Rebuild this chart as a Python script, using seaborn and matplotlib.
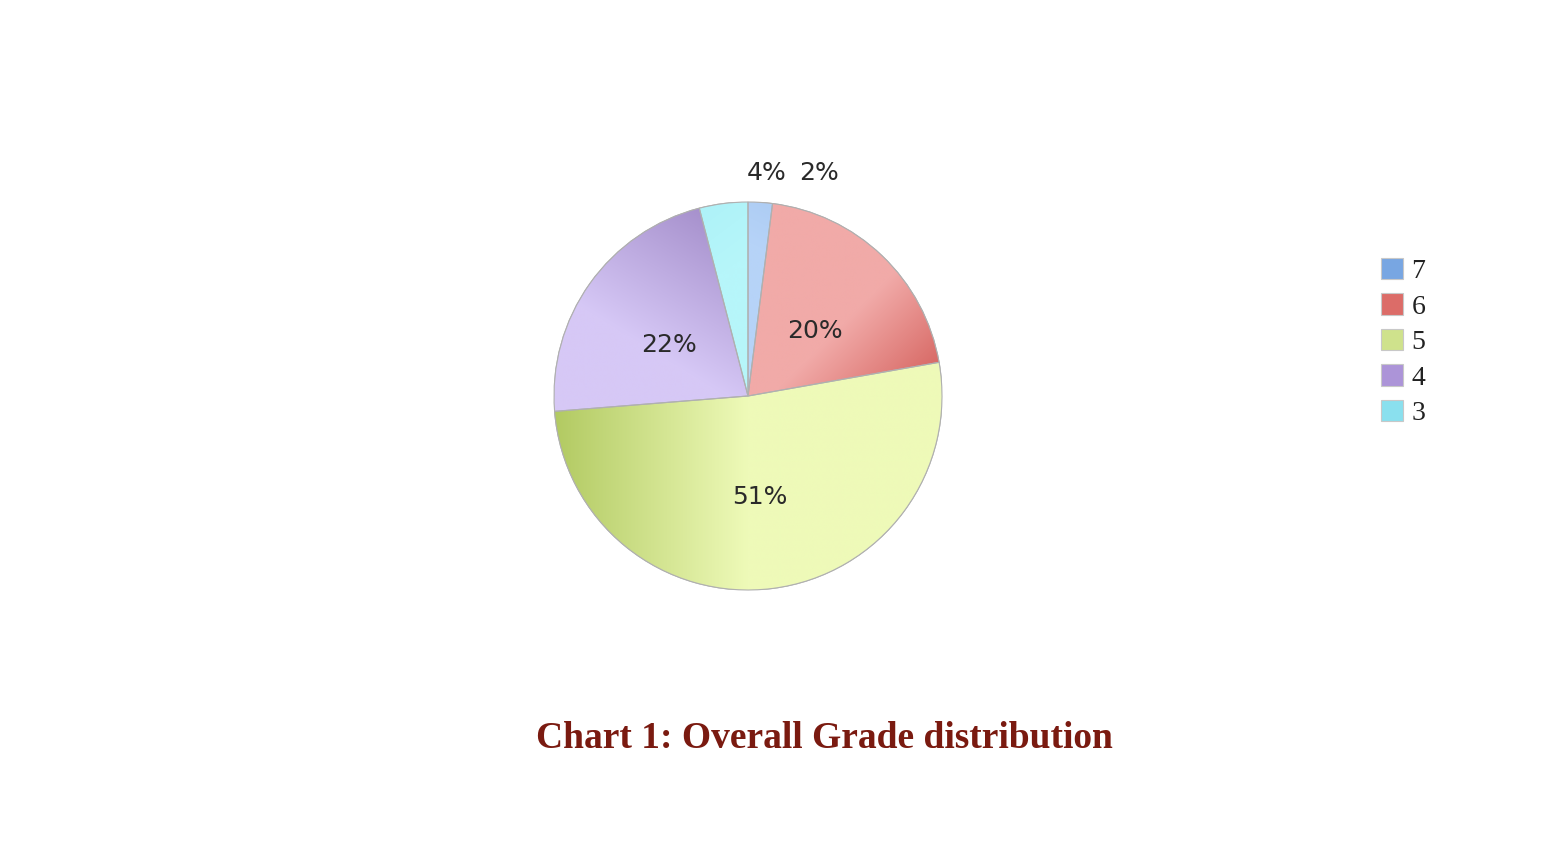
import matplotlib
matplotlib.use("Agg")
import matplotlib.pyplot as plt
import seaborn as sns
import numpy as np
from matplotlib.colors import LinearSegmentedColormap
from matplotlib.patches import PathPatch

sns.set_theme(style="white")
plt.rcParams['font.family'] = ['DejaVu Sans']

grades = ["7", "6", "5", "4", "3"]
shares = [2, 20, 51, 22, 4]
pct_labels = ["2%", "20%", "51%", "22%", "4%"]
slice_colors = ["#b4d0f6", "#eda8a6", "#e8f4ae", "#cfc0f2", "#b4f2f8"]
legend_colors = ["#78a6e2", "#dc6c68", "#cfe28c", "#ac94d8", "#8ae0ee"]
# shading: (dark colour, light colour, dark point, light point)
shading = [
    ("#aecdf4", "#b6d3f8", (0.1, 1.0), (0.0, 0.8)),
    ("#d86a66", "#f1aaa8", (0.97, 0.15), (0.62, 0.5)),
    ("#b2ca62", "#eefab8", (-1.0, -0.1), (0.0, -0.1)),
    ("#a690cc", "#d6c8f6", (-0.2, 0.95), (-0.6, 0.3)),
    ("#aef2f8", "#b6f6fa", (-0.25, 0.97), (-0.05, 0.7)),
]

W, H = 1566, 850
fig = plt.figure(figsize=(W / 100, H / 100), dpi=100)
fig.patch.set_facecolor("white")

cx, cy, r = 748, 396, 194
ax = fig.add_axes([(cx - r) / W, (H - cy - r) / H, 2 * r / W, 2 * r / H])

wedges, texts = ax.pie(
    shares, colors=slice_colors, startangle=90, counterclock=False,
    radius=1.0, labels=pct_labels, labeldistance=0.5,
    wedgeprops=dict(edgecolor="#b0b0b0", linewidth=0.8),
    textprops=dict(fontsize=18, color="#2a2a2a"),
)

gx, gy = np.meshgrid(np.linspace(-1, 1, 400), np.linspace(-1, 1, 400))
for w, (dark, light, p0, p1) in zip(wedges, shading):
    d = np.array(p1) - np.array(p0)
    t = ((gx - p0[0]) * d[0] + (gy - p0[1]) * d[1]) / (d @ d)
    t = np.clip(t, 0, 1)
    cmap = LinearSegmentedColormap.from_list("g", [dark, light])
    im = ax.imshow(t, cmap=cmap, extent=(-1, 1, -1, 1), origin="lower",
                   vmin=0, vmax=1, interpolation="bilinear", zorder=w.get_zorder() + 0.1)
    im.set_clip_path(w)
    edge = PathPatch(w.get_path(), transform=w.get_transform(),
                     facecolor="none", edgecolor="#b0b0b0",
                     linewidth=0.8, zorder=w.get_zorder() + 0.2)
    ax.add_patch(edge)

for t in texts:
    t.set_ha("center")
    t.set_va("center")
    t.set_zorder(10)
    x, y = t.get_position()
    t.set_position((x, y - 5 / r))
# small slices: labels above the pie
texts[0].set_position(((819 - cx) / r, (cy - 173) / r))
texts[4].set_position(((767 - cx) / r, (cy - 173) / r))
ax.set_xlim(-1, 1)
ax.set_ylim(-1, 1)
ax.set_aspect("equal")
ax.axis("off")

leg = fig.legend(
    wedges, grades, loc="upper left",
    bbox_to_anchor=(1381 / W, 1 - 258 / H), frameon=False,
    prop=dict(family="Liberation Serif", size=20),
    handlelength=0.8, handleheight=0.8, handletextpad=0.3,
    labelspacing=0.33, borderpad=0, borderaxespad=0,
)
for h, c in zip(leg.legend_handles, legend_colors):
    h.set_facecolor(c)
    h.set_edgecolor("#c8c8c8")
for t in leg.get_texts():
    t.set_color("#222222")

fig.text(824 / W, 1 - 738 / H, "Chart 1: Overall Grade distribution",
         ha="center", va="center", fontsize=27, fontweight="bold",
         family="Liberation Serif", color="#7a1a10")

fig.savefig("out.png", dpi=100, facecolor="white")
